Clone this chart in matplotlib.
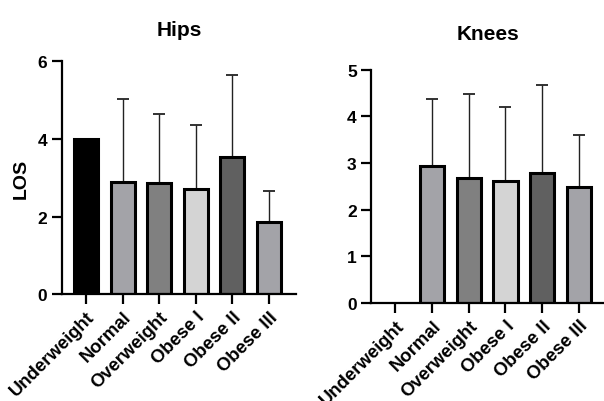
import matplotlib
matplotlib.use('Agg')
import matplotlib.pyplot as plt
import numpy as np

plt.rcParams['font.family'] = ['Liberation Sans', 'DejaVu Sans']
plt.rcParams['font.weight'] = 'bold'

# ==========================================
# DATA
# ==========================================
categories = ['Underweight', 'Normal', 'Overweight', 'Obese I', 'Obese II', 'Obese III']

hips_mean = [4.0, 2.9, 2.85, 2.72, 3.53, 1.87]
hips_upper = [np.nan, 5.02, 4.64, 4.35, 5.64, 2.66]

knees_mean = [np.nan, 2.93, 2.69, 2.61, 2.78, 2.49]
knees_upper = [np.nan, 4.38, 4.48, 4.2, 4.68, 3.6]

bar_colors = ['#000000', '#a3a3a8', '#808080', '#d4d4d4', '#606060', '#a3a3a8']


def draw_panel(ax, means, upper, title, yticks, ymax, xright, tpad):
    x = np.arange(len(categories))
    means = np.array(means, dtype=float)
    err = np.array(upper, dtype=float) - means
    err = np.where(np.isnan(err), 0, err)
    ax.bar(x, means, width=0.66, color=bar_colors, edgecolor='black',
           linewidth=2.2, zorder=2)
    ax.errorbar(x, means, yerr=[np.zeros_like(err), err], fmt='none',
                ecolor='#222222', elinewidth=1.0, capsize=4.3, capthick=1.3,
                zorder=1)
    ax.set_xlim(-0.66, xright)
    ax.set_ylim(0, ymax)
    ax.set_yticks(yticks)
    ax.set_xticks(x)
    ax.tick_params(axis='both', width=1.6, length=7)
    ax.tick_params(axis='y', labelsize=12.5)
    ax.tick_params(axis='x', pad=3)
    ax.set_xticklabels(categories, rotation=45, ha='right',
                       rotation_mode='anchor', fontsize=13.3, fontweight='bold')
    for lab in ax.get_yticklabels():
        lab.set_fontweight('bold')
    ax.spines['top'].set_visible(False)
    ax.spines['right'].set_visible(False)
    ax.spines['left'].set_linewidth(1.6)
    ax.spines['bottom'].set_linewidth(1.6)
    ax.set_title(title, fontsize=15, fontweight='bold', pad=tpad)


fig = plt.figure(figsize=(6.04, 4.02), dpi=100)

ax1 = fig.add_axes([0.1026, 0.2654, 0.3874, 0.5804])
draw_panel(ax1, hips_mean, hips_upper, 'Hips', [0, 2, 4, 6], 6, 5.75, 19)
ax1.set_ylabel('LOS', fontsize=14, fontweight='bold', labelpad=6)

ax2 = fig.add_axes([0.6147, 0.2438, 0.3853, 0.5802])
draw_panel(ax2, knees_mean, knees_upper, 'Knees', [0, 1, 2, 3, 4, 5], 5, 5.69, 22)

fig.savefig('out.png', dpi=100)
